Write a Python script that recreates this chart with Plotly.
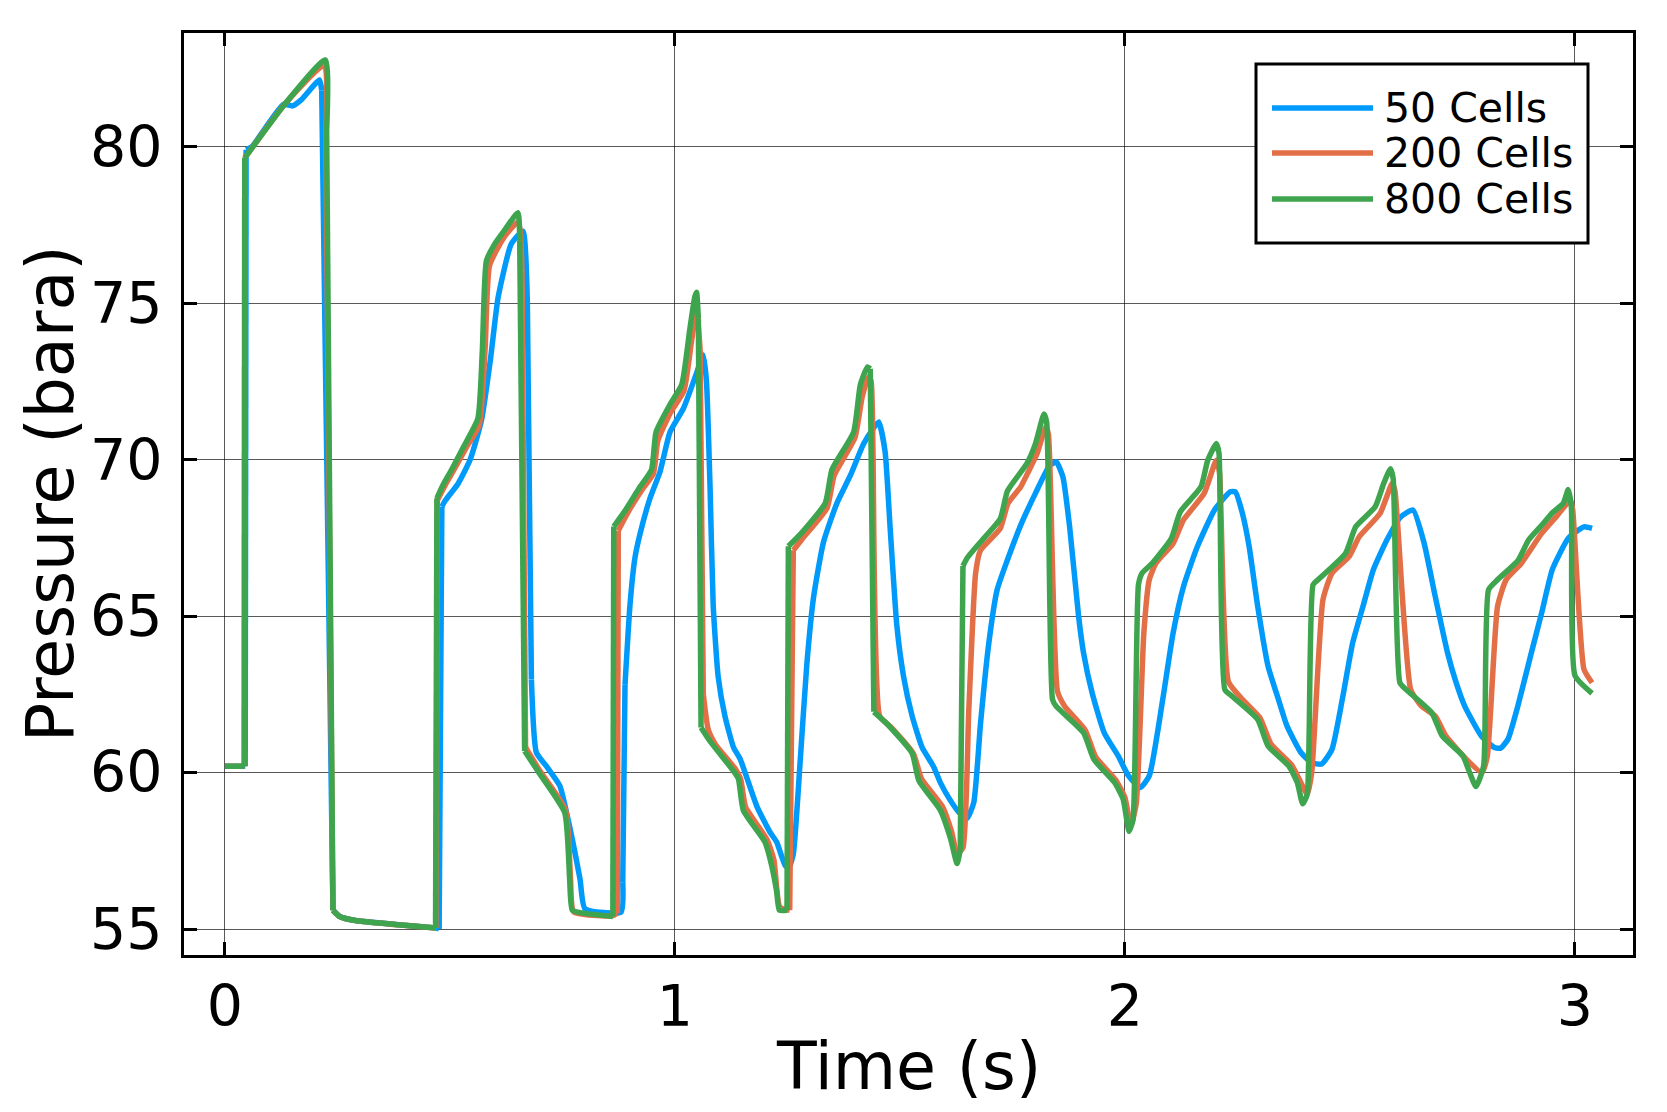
import plotly.graph_objects as go

# time (s) / pressure (bara)
t_50 = [0, 0.045, 0.047, 0.06, 0.13, 0.15, 0.17, 0.21, 0.215, 0.24, 0.255, 0.29, 0.47, 0.476,
        0.482, 0.49, 0.518, 0.545, 0.57, 0.59, 0.607, 0.636, 0.662, 0.672, 0.681, 0.692, 0.714,
        0.744, 0.759, 0.789, 0.8, 0.88, 0.884, 0.889, 0.9, 0.911, 0.922, 0.944, 0.967, 0.989,
        1.019, 1.045, 1.063, 1.07, 1.078, 1.085, 1.096, 1.111, 1.13, 1.145, 1.182, 1.211, 1.226,
        1.245, 1.253, 1.263, 1.278, 1.293, 1.308, 1.33, 1.36, 1.39, 1.419, 1.441, 1.453, 1.467,
        1.478, 1.493, 1.508, 1.527, 1.549, 1.575, 1.59, 1.612, 1.631, 1.649, 1.664, 1.679, 1.697,
        1.716, 1.739, 1.77, 1.801, 1.831, 1.847, 1.862, 1.877, 1.897, 1.908, 1.927, 1.954, 1.985,
        2.008, 2.034, 2.054, 2.084, 2.107, 2.13, 2.161, 2.199, 2.234, 2.245, 2.261, 2.276, 2.295,
        2.318, 2.341, 2.36, 2.391, 2.414, 2.437, 2.46, 2.483, 2.506, 2.529, 2.552, 2.582, 2.613,
        2.64, 2.665, 2.688, 2.717, 2.736, 2.755, 2.792, 2.821, 2.835, 2.851, 2.873, 2.903, 2.926,
        2.95, 2.986, 3.02, 3.038]
p_50 = [60.2, 60.2, 79.9, 80.0, 81.35, 81.3, 81.5, 82.13, 81.8, 55.6, 55.4, 55.27, 55.03, 55.0,
        68.5, 68.7, 69.23, 70.0, 71.25, 73.2, 75.18, 76.88, 77.3, 75.0, 62.97, 60.64, 60.21,
        59.58, 58.73, 56.6, 55.65, 55.54, 56.5, 62.8, 65.34, 66.85, 67.6, 68.74, 69.62, 70.88,
        71.64, 72.64, 73.34, 72.5, 69.12, 65.34, 63.07, 61.81, 60.81, 60.43, 58.92, 58.1, 57.78,
        57.03, 56.95, 57.4, 60.3, 63.45, 65.6, 67.36, 68.61, 69.5, 70.5, 71.0, 71.2, 70.25,
        67.86, 64.71, 63.07, 61.81, 60.81, 60.18, 59.67, 59.11, 58.73, 58.54, 59.04, 61.56, 64.08,
        65.84, 66.8, 67.96, 68.92, 69.77, 69.93, 69.45, 67.86, 64.99, 63.82, 62.55, 61.27, 60.53,
        59.89, 59.52, 59.89, 62.34, 64.46, 65.94, 67.22, 68.39, 68.97, 68.97, 68.28, 67.22, 65.31,
        63.4, 62.34, 61.49, 60.64, 60.32, 60.27, 60.74, 62.34, 64.14, 65.31, 66.48, 67.43, 68.17,
        68.39, 67.32, 65.73, 63.82, 62.87, 62.12, 61.17, 60.8, 60.78, 61.06, 62.12, 63.82, 65.1,
        66.5, 67.5, 67.85, 67.8]

t_200 = [0, 0.043, 0.044, 0.132, 0.221, 0.224, 0.24, 0.255, 0.29, 0.469, 0.472, 0.49, 0.51,
         0.535, 0.565, 0.578, 0.588, 0.62, 0.652, 0.66, 0.668, 0.7, 0.757, 0.768, 0.775, 0.86,
         0.872, 0.874, 0.895, 0.925, 0.952, 0.962, 0.99, 1.02, 1.037, 1.048, 1.056, 1.063, 1.074,
         1.09, 1.135, 1.146, 1.157, 1.205, 1.22, 1.233, 1.255, 1.263, 1.285, 1.338, 1.354, 1.4,
         1.416, 1.43, 1.436, 1.455, 1.48, 1.53, 1.548, 1.595, 1.615, 1.627, 1.64, 1.653, 1.668,
         1.679, 1.723, 1.74, 1.768, 1.785, 1.805, 1.824, 1.83, 1.85, 1.866, 1.912, 1.935, 1.98,
         2.0, 2.013, 2.025, 2.042, 2.054, 2.069, 2.107, 2.13, 2.176, 2.203, 2.21, 2.23, 2.261,
         2.3, 2.325, 2.37, 2.398, 2.405, 2.415, 2.44, 2.46, 2.498, 2.521, 2.567, 2.594, 2.6,
         2.635, 2.659, 2.69, 2.713, 2.759, 2.793, 2.805, 2.828, 2.847, 2.881, 2.926, 2.96, 2.99,
         2.995, 3.02, 3.038]
p_200 = [60.2, 60.2, 79.64, 81.34, 82.6, 80.5, 55.6, 55.4, 55.27, 55.03, 68.7, 69.2, 69.7,
         70.35, 71.1, 73.5, 76.2, 77.1, 77.6, 76.0, 60.8, 60.05, 58.8, 56.6, 55.55, 55.42,
         55.5, 67.73, 68.3, 69.0, 69.55, 70.6, 71.5, 72.2, 73.8, 74.8, 73.5, 62.5, 61.37,
         60.9, 60.1, 59.8, 58.9, 57.85, 57.2, 55.7, 55.6, 67.1, 67.5, 68.45, 69.5, 70.7,
         72.0, 72.64, 72.5, 61.8, 61.45, 60.6, 59.8, 58.9, 58.1, 57.4, 57.6, 62.0, 66.35,
         67.1, 67.8, 68.6, 69.12, 69.6, 70.2, 71.04, 70.8, 62.6, 62.12, 61.35, 60.5, 59.75,
         59.2, 58.3, 59.0, 64.46, 66.16, 66.69, 67.32, 68.07, 68.92, 69.98, 69.6, 62.9, 62.34,
         61.75, 60.9, 60.25, 59.47, 59.3, 60.0, 65.52, 66.37, 66.9, 67.54, 68.28, 69.24, 69.0,
         62.65, 62.12, 61.8, 61.17, 60.42, 60.0, 60.5, 65.31, 66.16, 66.69, 67.64, 68.2, 68.7,
         68.4, 63.3, 62.87]

t_800 = [0, 0.043, 0.044, 0.132, 0.223, 0.226, 0.24, 0.255, 0.29, 0.468, 0.471, 0.485, 0.503,
         0.53, 0.562, 0.572, 0.581, 0.6, 0.62, 0.651, 0.655, 0.666, 0.7, 0.755, 0.766, 0.772,
         0.8, 0.862, 0.864, 0.889, 0.922, 0.948, 0.958, 0.989, 1.015, 1.033, 1.044, 1.048, 1.052,
         1.058, 1.078, 1.13, 1.141, 1.152, 1.2, 1.215, 1.226, 1.232, 1.249, 1.252, 1.278, 1.334,
         1.349, 1.397, 1.412, 1.428, 1.434, 1.442, 1.471, 1.527, 1.542, 1.59, 1.612, 1.627, 1.634,
         1.64, 1.649, 1.686, 1.723, 1.739, 1.782, 1.801, 1.82, 1.826, 1.839, 1.847, 1.908, 1.931,
         1.977, 1.996, 2.009, 2.018, 2.03, 2.038, 2.061, 2.103, 2.123, 2.169, 2.184, 2.203, 2.209,
         2.222, 2.238, 2.295, 2.318, 2.364, 2.383, 2.395, 2.405, 2.418, 2.429, 2.49, 2.513, 2.556,
         2.575, 2.59, 2.596, 2.611, 2.625, 2.682, 2.705, 2.751, 2.766, 2.78, 2.797, 2.808, 2.828,
         2.874, 2.897, 2.926, 2.95, 2.974, 2.985, 2.992, 3.0, 3.038]
p_800 = [60.2, 60.2, 79.64, 81.34, 82.77, 80.5, 55.6, 55.4, 55.27, 55.03, 68.76, 69.2, 69.66,
         70.4, 71.31, 73.5, 76.35, 76.9, 77.3, 77.89, 77.0, 60.69, 59.95, 58.72, 56.6, 55.6,
         55.5, 55.4, 67.86, 68.36, 69.12, 69.68, 70.88, 71.76, 72.39, 74.16, 75.2, 75.35, 74.5,
         61.44, 61.0, 60.05, 59.8, 58.79, 57.78, 57.03, 56.2, 55.6, 55.6, 67.23, 67.6, 68.61,
         69.68, 70.88, 72.39, 72.96, 72.9, 61.94, 61.56, 60.62, 59.74, 58.79, 57.91, 57.09, 57.53,
         66.6, 66.85, 67.48, 68.11, 69.0, 69.87, 70.5, 71.46, 71.2, 62.34, 62.12, 61.27, 60.42,
         59.68, 59.15, 58.12, 58.5, 66.0, 66.37, 66.69, 67.48, 68.33, 69.13, 69.98, 70.51, 70.2,
         62.65, 62.44, 61.7, 60.85, 60.21, 59.68, 59.0, 59.3, 66.0, 66.16, 67.0, 67.86, 68.49,
         69.24, 69.71, 69.4, 62.87, 62.65, 61.91, 61.17, 60.53, 60.0, 59.55, 60.21, 65.84, 66.16,
         66.79, 67.43, 67.9, 68.3, 68.6, 69.04, 68.5, 63.1, 62.53]

names = ["50 Cells", "200 Cells", "800 Cells"]
colors = ["#009AFA", "#E36F47", "#3EA44E"]
x_ticks = [0, 1, 2, 3]
y_ticks = [55, 60, 65, 70, 75, 80]

# page body has an 8px margin, so the figure is a bit smaller than the window
W, H = 1659, 1104
L, R, T, B = 176, 34, 25, 157
pw, ph = W - L - R, H - T - B


def px(ax):
    return (ax - 8 - L) / pw


def py(ay):
    return 1 - (ay - 8 - T) / ph


def pieces(t, p, steep=800):
    # split a series into runs of smooth segments and runs of near-vertical jumps
    out = []
    start = 0
    kind = None
    for i in range(len(t) - 1):
        k = abs(p[i + 1] - p[i]) / (t[i + 1] - t[i]) > steep
        if kind is None:
            kind = k
        elif k != kind:
            out.append((start, i, kind))
            start, kind = i, k
    out.append((start, len(t) - 1, kind))
    return out


fig = go.Figure()
for t, p, name, c in zip([t_50, t_200, t_800], [p_50, p_200, p_800], names, colors):
    for a, b, jump in pieces(t, p):
        shape = dict(shape="linear") if jump else dict(shape="spline", smoothing=0.5)
        fig.add_trace(go.Scatter(x=t[a:b + 1], y=p[a:b + 1], mode="lines", name=name,
                                 showlegend=False, hoverinfo="skip",
                                 line=dict(color=c, width=5.5, **shape)))

axis_style = dict(showline=True, linecolor="black", linewidth=3, mirror="ticks",
                  ticks="inside", ticklen=13, tickwidth=3, tickcolor="black",
                  showgrid=True, gridcolor="rgba(0,0,0,0.65)", gridwidth=1,
                  zeroline=False, automargin=False, tickfont=dict(size=57, color="black"))

fig.update_xaxes(range=[-0.091, 3.129], tickvals=x_ticks, ticklabelstandoff=0, **axis_style)
fig.update_yaxes(range=[54.17, 83.63], tickvals=y_ticks, ticklabelstandoff=7, **axis_style)

# axis titles as annotations so they can sit close to the page edge
fig.add_annotation(text="Time (s)", xref="paper", yref="paper", x=0.5, y=py(1066),
                   xanchor="center", yanchor="middle", showarrow=False,
                   font=dict(size=65, color="black"))
fig.add_annotation(text="Pressure (bara)", xref="paper", yref="paper", x=px(50), y=0.5,
                   xanchor="center", yanchor="middle", showarrow=False, textangle=-90,
                   font=dict(size=65, color="black"))

# legend box drawn by hand so the sample lines can be long like the original
fig.add_shape(type="rect", xref="paper", yref="paper",
              x0=px(1256), x1=px(1588), y0=py(243), y1=py(64),
              line=dict(color="black", width=3), fillcolor="white", layer="above")
row_y = [108, 153, 199]
for name, c, ry in zip(names, colors, row_y):
    fig.add_shape(type="line", xref="paper", yref="paper",
                  x0=px(1272), x1=px(1373), y0=py(ry), y1=py(ry),
                  line=dict(color=c, width=5.5), layer="above")
    fig.add_annotation(text=name, xref="paper", yref="paper", x=px(1382), y=py(ry),
                       xanchor="left", yanchor="middle", showarrow=False,
                       font=dict(size=41, color="black"))

fig.update_layout(
    width=W, height=H,
    margin=dict(l=L, r=R, t=T, b=B),
    paper_bgcolor="white", plot_bgcolor="white",
    font=dict(family="DejaVu Sans", color="black"),
    showlegend=False,
)

fig.write_html("out.html")
